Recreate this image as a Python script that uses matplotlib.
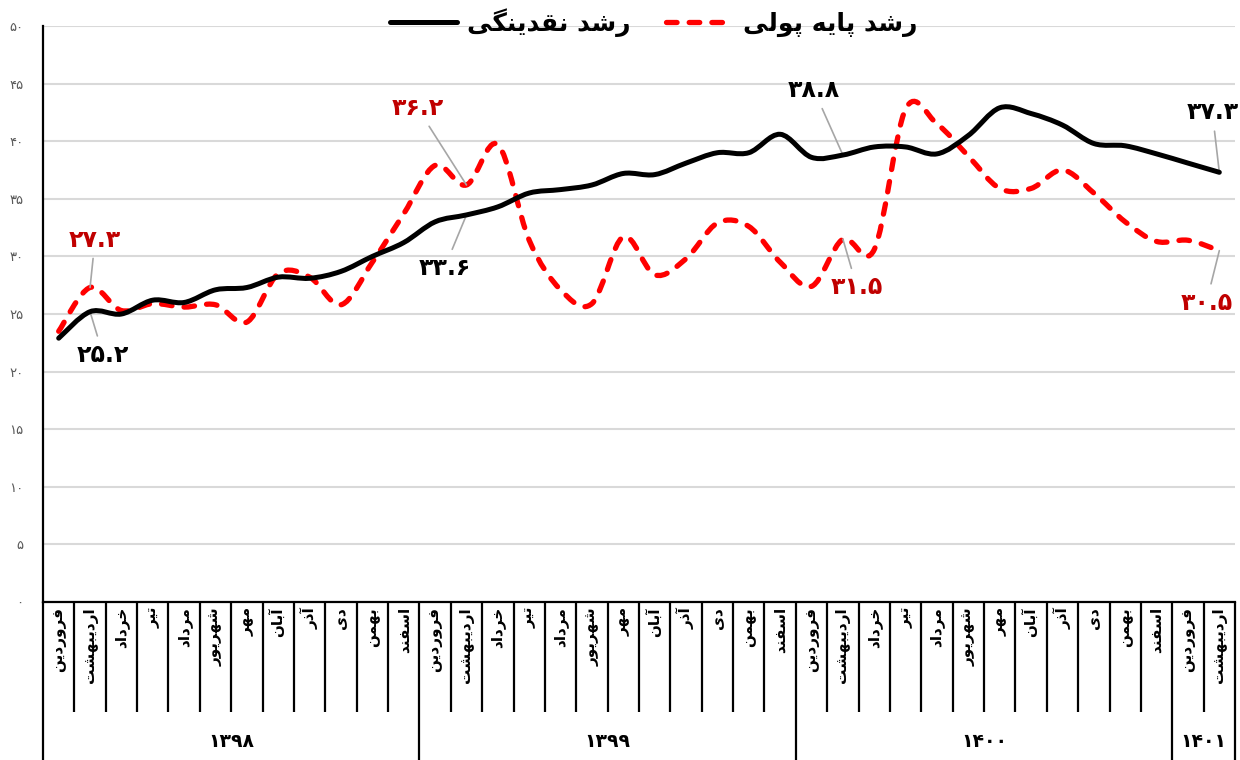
import numpy as np
import matplotlib
matplotlib.use('Agg')
import matplotlib.pyplot as plt
from matplotlib.path import Path
from matplotlib.patches import PathPatch
from matplotlib.lines import Line2D
import matplotlib.transforms as mtransforms

months = ['فروردین', 'اردیبهشت', 'خرداد', 'تیر', 'مرداد', 'شهریور',
          'مهر', 'آبان', 'آذر', 'دی', 'بهمن', 'اسفند']
years = ['۱۳۹۸', '۱۳۹۹', '۱۴۰۰', '۱۴۰۱']
year_lengths = [12, 12, 12, 2]

liquidity = [22.9, 25.2, 25.0, 26.2, 26.0, 27.1, 27.3, 28.2, 28.1, 28.7, 30.0, 31.2,
             33.0, 33.6, 34.3, 35.5, 35.8, 36.2, 37.2, 37.1, 38.1, 39.0, 39.0, 40.6,
             38.6, 38.8, 39.5, 39.5, 38.9, 40.5, 42.9, 42.4, 41.4, 39.8, 39.6, 38.9,
             38.1, 37.3]
base_money = [23.5, 27.3, 25.3, 25.9, 25.6, 25.8, 24.3, 28.5, 28.2, 25.8, 29.5, 33.7,
              37.9, 36.2, 39.7, 31.4, 27.1, 25.9, 31.7, 28.4, 29.8, 32.9, 32.6, 29.5,
              27.4, 31.5, 30.6, 42.8, 41.5, 38.7, 35.9, 35.9, 37.5, 35.5, 33.0, 31.3,
              31.4, 30.5]
legend_labels = ['رشد نقدینگی', 'رشد پایه پولی']

# labelled points: (series, index, pixel offset of text)
callouts = [('liq', 1, (13, -43)), ('base', 1, (5, 48)),
            ('liq', 13, (-22, -53)), ('base', 13, (-49, 77)),
            ('liq', 25, (-29, 65)), ('base', 25, (14, -48)),
            ('liq', 37, (-7, 60)), ('base', 37, (-13, -52))]

# --- minimal Persian shaping (matplotlib has no complex text layout)
FORMS = {
    'ا': ('\uFE8D', '\uFE8E', None, None), 'آ': ('\uFE81', '\uFE82', None, None),
    'ب': ('\uFE8F', '\uFE90', '\uFE91', '\uFE92'), 'پ': ('\uFB56', '\uFB57', '\uFB58', '\uFB59'),
    'ت': ('\uFE95', '\uFE96', '\uFE97', '\uFE98'), 'خ': ('\uFEA5', '\uFEA6', '\uFEA7', '\uFEA8'),
    'د': ('\uFEA9', '\uFEAA', None, None), 'ذ': ('\uFEAB', '\uFEAC', None, None),
    'ر': ('\uFEAD', '\uFEAE', None, None), 'ز': ('\uFEAF', '\uFEB0', None, None),
    'س': ('\uFEB1', '\uFEB2', '\uFEB3', '\uFEB4'), 'ش': ('\uFEB5', '\uFEB6', '\uFEB7', '\uFEB8'),
    'ف': ('\uFED1', '\uFED2', '\uFED3', '\uFED4'), 'ق': ('\uFED5', '\uFED6', '\uFED7', '\uFED8'),
    'گ': ('\uFB92', '\uFB93', '\uFB94', '\uFB95'), 'ل': ('\uFEDD', '\uFEDE', '\uFEDF', '\uFEE0'),
    'م': ('\uFEE1', '\uFEE2', '\uFEE3', '\uFEE4'), 'ن': ('\uFEE5', '\uFEE6', '\uFEE7', '\uFEE8'),
    'ه': ('\uFEE9', '\uFEEA', '\uFEEB', '\uFEEC'), 'و': ('\uFEED', '\uFEEE', None, None),
    'ی': ('\uFBFC', '\uFBFD', '\uFBFE', '\uFBFF'),
}

def shape(word):
    out = []
    for k, ch in enumerate(word):
        f = FORMS.get(ch)
        if f is None:
            out.append(ch)
            continue
        prev = word[k - 1] if k > 0 else None
        nxt = word[k + 1] if k + 1 < len(word) else None
        jp = prev in FORMS and FORMS[prev][2] is not None
        jn = nxt in FORMS and f[2] is not None
        if jp and jn:
            out.append(f[3])
        elif jp:
            out.append(f[1])
        elif jn:
            out.append(f[2])
        else:
            out.append(f[0])
    return ''.join(reversed(out))

fa_digits = str.maketrans('0123456789', '۰۱۲۳۴۵۶۷۸۹')

def fa_num(v, fmt='{:.1f}'):
    return fmt.format(v).translate(fa_digits)

def smooth_path(xs, ys):
    # Bezier segments through the points (Excel style smoothed line)
    p = np.column_stack([xs, ys]).astype(float)
    n = len(p)
    verts = [p[0]]
    codes = [Path.MOVETO]
    for i in range(n - 1):
        p0 = p[i - 1] if i > 0 else p[i]
        p3 = p[i + 2] if i + 2 < n else p[i + 1]
        c1 = p[i] + (p[i + 1] - p0) / 6
        c2 = p[i + 1] - (p3 - p[i]) / 6
        verts += [c1, c2, p[i + 1]]
        codes += [Path.CURVE4] * 3
    return Path(verts, codes)

plt.rcParams['font.family'] = ['DejaVu Sans']

W, H = 1240, 760
fig = plt.figure(figsize=(W / 100, H / 100), dpi=100)
ax = fig.add_axes([43 / W, 1 - 602 / H, (1235 - 43) / W, (602 - 26) / H])

n = len(liquidity)
x = np.arange(n)

red = '#ff0000'
dark_red = '#c00000'

ax.add_patch(PathPatch(smooth_path(x, liquidity), fill=False, edgecolor='black',
                       lw=3.6, capstyle='round', joinstyle='round', zorder=4))
ax.add_patch(PathPatch(smooth_path(x, base_money), fill=False, edgecolor=red,
                       lw=3.8, linestyle=(0, (2.0, 2.3)), capstyle='round', zorder=3))

ax.set_xlim(-0.5, n - 0.5)
ax.set_ylim(0, 50)
ax.set_yticks(np.arange(0, 51, 5))
ax.set_yticklabels([fa_num(v, '{:d}') for v in range(0, 51, 5)], fontsize=9.5, color='#595959')
ax.tick_params(axis='y', length=0, pad=14)
ax.set_xticks([])
ax.grid(axis='y', color='#d9d9d9', lw=1.5)
ax.set_axisbelow(True)
for s in ['top', 'right']:
    ax.spines[s].set_visible(False)
ax.spines['left'].set_linewidth(1.6)
ax.spines['bottom'].set_linewidth(1.6)

# category axis: month labels, separators, year labels
trans = mtransforms.blended_transform_factory(ax.transData, ax.transAxes)
labels = []
for yl in year_lengths:
    labels += months[:yl]
for i, m in enumerate(labels):
    ax.annotate(shape(m), xy=(i, 0), xycoords=trans, xytext=(0, -5),
                textcoords='offset pixels', rotation=90, ha='center', va='top',
                fontsize=11, fontweight='bold', annotation_clip=False)

bounds = np.cumsum([0] + year_lengths) - 0.5
for b in np.arange(-0.5, n):
    low = -0.274 if b in bounds else -0.191
    ax.plot([b, b], [0, low], transform=trans, color='black', lw=1.6, clip_on=False,
            solid_capstyle='butt')
for k, yr in enumerate(years):
    ax.text((bounds[k] + bounds[k + 1]) / 2, -0.243, yr, transform=trans,
            ha='center', va='center', fontsize=13.5, fontweight='bold')

# callouts
series = {'liq': (liquidity, 'black'), 'base': (base_money, dark_red)}
for key, i, off in callouts:
    vals, col = series[key]
    ax.annotate(fa_num(vals[i]), xy=(i, vals[i]), xytext=off, textcoords='offset pixels',
                ha='center', va='center', fontsize=17, fontweight='bold', color=col,
                annotation_clip=False,
                arrowprops=dict(arrowstyle='-', color='#a6a6a6', lw=1.2, shrinkA=3, shrinkB=0))

handles = [Line2D([], [], color='black', lw=3.6, solid_capstyle='round'),
           Line2D([], [], color=red, lw=3.8, linestyle=(0, (2.0, 2.3)), dash_capstyle='round')]
fig.legend(handles, [shape(t) for t in legend_labels], loc='center',
           bbox_to_anchor=(0.527, 0.970), ncol=2, frameon=False,
           prop={'size': 18, 'weight': 'bold'}, handlelength=2.7,
           handletextpad=0.4, columnspacing=1.4)

fig.savefig('out.png', dpi=100)
